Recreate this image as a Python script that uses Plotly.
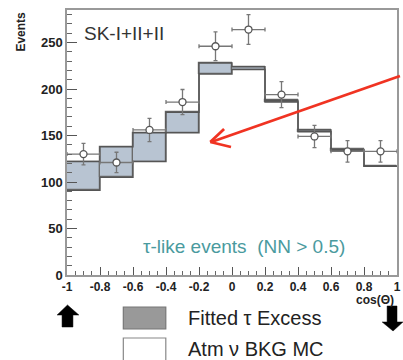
import plotly.graph_objects as go

# ---- data ----
bin_edges = [-1.0, -0.8, -0.6, -0.4, -0.2, 0.0, 0.2, 0.4, 0.6, 0.8, 1.0]
bin_centers = [-0.9, -0.7, -0.5, -0.3, -0.1, 0.1, 0.3, 0.5, 0.7, 0.9]
bkg_mc = [91, 105, 122, 153, 216, 221, 186, 154, 133, 117]
total_fit = [122, 138, 153, 175, 228, 224, 188, 156, 135, 117]
data_vals = [130, 121, 156, 186, 246, 264, 194, 149, 133, 133]
data_err = [11.5, 11, 12.5, 13.5, 15.5, 16, 14, 12, 11.5, 11.5]
x_tickvals = [-1, -0.8, -0.6, -0.4, -0.2, 0, 0.2, 0.4, 0.6, 0.8, 1]
x_ticktext = ["-1", "-0.8", "-0.6", "-0.4", "-0.2", "0", "0.2", "0.4", "0.6", "0.8", "1"]
y_tickvals = [0, 50, 100, 150, 200, 250]

excess = [t - b for t, b in zip(total_fit, bkg_mc)]
half_width = [(bin_edges[i + 1] - bin_edges[i]) / 2 for i in range(len(bin_centers))]

W, H = 403, 360
L, R, T, B = 67, 2, 10, 85
PW, PH = W - L - R, H - T - B


def px(x):
    return (x - L) / PW


def py(y):
    return (H - B - y) / PH


FONT = "Liberation Sans, Arial, sans-serif"
LINE = "#555555"

fig = go.Figure()

fig.add_trace(go.Bar(
    x=bin_centers, y=excess, base=bkg_mc, width=0.2,
    marker=dict(color="#b8c4d2", line=dict(color="#6a6a6a", width=1.2)),
    showlegend=False,
))
fig.add_trace(go.Scatter(
    x=bin_edges, y=bkg_mc + [bkg_mc[-1]], mode="lines", line_shape="hv",
    line=dict(color=LINE, width=1.4), showlegend=False,
))
fig.add_trace(go.Scatter(
    x=bin_edges, y=total_fit + [total_fit[-1]], mode="lines", line_shape="hv",
    line=dict(color=LINE, width=1.4), showlegend=False,
))
fig.add_trace(go.Scatter(
    x=bin_centers, y=data_vals, mode="markers",
    marker=dict(symbol="circle", size=7, color="white", line=dict(color="#555", width=1.3)),
    error_x=dict(type="data", array=half_width, color="#777", thickness=1.3, width=2),
    error_y=dict(type="data", array=data_err, color="#777", thickness=1.3, width=2),
    showlegend=False,
))

shapes = []
# red arrow
RED = "#f03322"
shapes.append(dict(type="line", xref="paper", yref="paper", x0=px(404), y0=py(76), x1=px(213), y1=py(142),
                   line=dict(color=RED, width=2.8)))
shapes.append(dict(type="line", xref="paper", yref="paper", x0=px(212), y0=py(142), x1=px(226), y1=py(129),
                   line=dict(color=RED, width=2.8)))
shapes.append(dict(type="line", xref="paper", yref="paper", x0=px(212), y0=py(142), x1=px(233), y1=py(147),
                   line=dict(color=RED, width=2.8)))

# legend boxes
shapes.append(dict(type="rect", xref="paper", yref="paper", x0=px(124), x1=px(167), y0=py(307), y1=py(329),
                   fillcolor="#999999", line=dict(color="#777", width=1.2)))
shapes.append(dict(type="rect", xref="paper", yref="paper", x0=px(124), x1=px(167), y0=py(338), y1=py(362),
                   fillcolor="white", line=dict(color="#888", width=1.2)))


def block_path(pts):
    return "M " + " L ".join(f"{px(a):.5f},{py(b):.5f}" for a, b in pts) + " Z"


up = [(67.5, 305), (79, 315), (73, 315), (73, 327), (62, 327), (62, 315), (57, 315)]
down = [(397, 331), (386, 322), (391, 322), (391, 306), (401, 306), (401, 322), (407, 322)]
shapes.append(dict(type="path", xref="paper", yref="paper", path=block_path(up), fillcolor="black", line=dict(color="black", width=0.5)))
shapes.append(dict(type="path", xref="paper", yref="paper", path=block_path(down), fillcolor="black", line=dict(color="black", width=0.5)))

annotations = [
    dict(text="SK-I+II+II", xref="paper", yref="paper", x=px(82), y=py(33), xanchor="left", yanchor="middle",
         showarrow=False, font=dict(family=FONT, size=19, color="#333")),
    dict(text="τ-like events  (NN > 0.5)", xref="paper", yref="paper", x=px(246), y=py(246), xanchor="center",
         yanchor="middle", showarrow=False, font=dict(family=FONT, size=19, color="#4a9a9e")),
    dict(text="<b>Events</b>", xref="paper", yref="paper", x=px(20), y=py(10), xanchor="center", yanchor="top",
         textangle=-90, showarrow=False, font=dict(family=FONT, size=12, color="#222")),
    dict(text="<b>cos(Θ)</b>", xref="paper", yref="paper", x=px(400), y=py(300), xanchor="right", yanchor="middle",
         showarrow=False, font=dict(family=FONT, size=12, color="#222")),
    dict(text="Fitted τ Excess", xref="paper", yref="paper", x=px(187), y=py(318), xanchor="left", yanchor="middle",
         showarrow=False, font=dict(family=FONT, size=20, color="#222")),
    dict(text="Atm ν BKG MC", xref="paper", yref="paper", x=px(187), y=py(349), xanchor="left", yanchor="middle",
         showarrow=False, font=dict(family=FONT, size=20, color="#222")),
]

fig.update_layout(
    width=W, height=H, margin=dict(l=L, r=R, t=T, b=B),
    paper_bgcolor="white", plot_bgcolor="white",
    bargap=0, shapes=shapes, annotations=annotations,
    xaxis=dict(range=[-1, 1], tickvals=x_tickvals, ticktext=x_ticktext, ticks="inside", ticklen=8,
               tickcolor="#555", showgrid=False, zeroline=False, showline=True, mirror=True,
               linecolor="#999", linewidth=1.5,
               minor=dict(dtick=0.05, ticks="inside", ticklen=4, tickcolor="#666"),
               tickfont=dict(family=FONT, size=12, color="#222", weight="bold")),
    yaxis=dict(range=[0, 285], tickvals=y_tickvals, ticks="inside", ticklen=10, tickcolor="#555",
               showgrid=False, zeroline=False, showline=True, mirror=True, linecolor="#999", linewidth=1.5,
               minor=dict(dtick=10, ticks="inside", ticklen=5, tickcolor="#666"),
               tickfont=dict(family=FONT, size=13, color="#222", weight="bold")),
)

fig.write_html("out.html")
